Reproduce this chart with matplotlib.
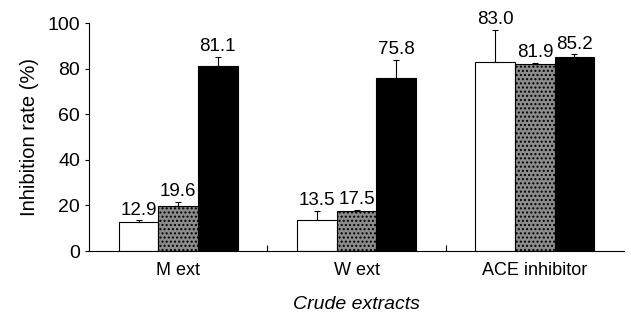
import matplotlib.pyplot as plt
import numpy as np

plt.rcParams['font.family'] = ['Liberation Sans', 'DejaVu Sans']
plt.rcParams['hatch.color'] = '#444444'

categories = ['M ext', 'W ext', 'ACE inhibitor']
series1 = [12.9, 13.5, 83.0]
series2 = [19.6, 17.5, 81.9]
series3 = [81.1, 75.8, 85.2]
err1 = [0.5, 4.0, 14.0]
err2 = [2.0, 0.6, 0.5]
err3 = [4.0, 8.0, 1.0]
labels1 = ['12.9', '13.5', '83.0']
labels2 = ['19.6', '17.5', '81.9']
labels3 = ['81.1', '75.8', '85.2']

fig = plt.figure(figsize=(6.31, 3.2), dpi=100)
ax = fig.add_axes([0.141, 0.2156, 0.848, 0.7124])

x = np.arange(len(categories))
w = 0.222
styles = [('white', None), ('#8c8c8c', '....'), ('black', None)]
allvals = [series1, series2, series3]
allerr = [err1, err2, err3]
alllab = [labels1, labels2, labels3]

for i in range(3):
    pos = x + (i - 1) * w
    fc, hatch = styles[i]
    ax.bar(pos, allvals[i], w, color=fc, edgecolor='black', linewidth=0.8,
           hatch=hatch, zorder=2)
    ax.errorbar(pos, allvals[i], yerr=[np.zeros(3), allerr[i]], fmt='none',
                ecolor='black', elinewidth=0.8, capsize=2.5, capthick=0.8, zorder=3)
    for p, v, e, t in zip(pos, allvals[i], allerr[i], alllab[i]):
        ax.text(p, v + e + 0.8, t, ha='center', va='bottom', fontsize=13.5)

ax.set_xlim(-0.5, 2.5)
ax.set_ylim(0, 100)
ax.set_yticks([0, 20, 40, 60, 80, 100])
ax.set_xticks(x)
ax.set_xticklabels(categories, fontsize=13)
ax.set_xticks([0.5, 1.5], minor=True)
ax.tick_params(axis='x', which='major', length=0, pad=8)
ax.tick_params(axis='x', which='minor', direction='in', length=4, width=0.8)
ax.tick_params(axis='y', labelsize=14, length=3, width=0.8)
ax.spines['top'].set_visible(False)
ax.spines['right'].set_visible(False)
ax.spines['left'].set_linewidth(0.8)
ax.spines['bottom'].set_linewidth(0.8)
ax.set_ylabel('Inhibition rate (%)', fontsize=14.5, labelpad=6)
ax.set_xlabel('Crude extracts', fontsize=14, style='italic', labelpad=12)

plt.savefig('out.png', dpi=100)
plt.close()
